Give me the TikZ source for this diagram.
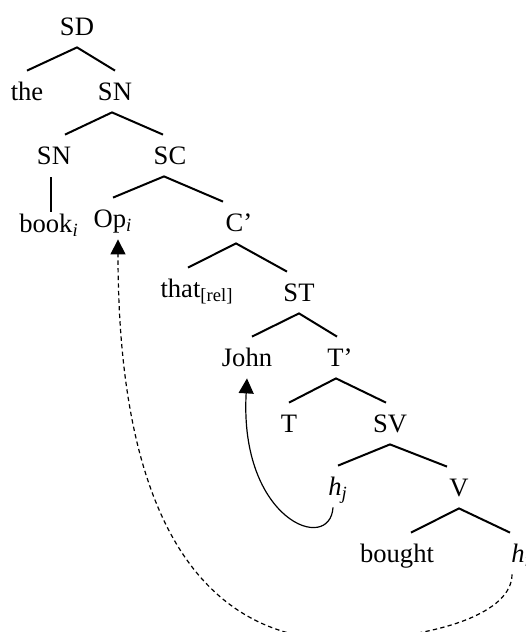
\documentclass[tikz,border=0pt]{standalone}
\usepackage{fontspec}
\setmainfont{Liberation Serif}
\usetikzlibrary{arrows.meta, calc}

\begin{document}
\begin{tikzpicture}[
  x=0.5pt, y=-0.5pt,
  font=\fontsize{13.3pt}{15pt}\selectfont,
  cat/.style={
    anchor=base, inner xsep=0pt, inner ysep=6pt,
    text height=8.5pt, text depth=0pt
  },
  branch/.style={line width=1pt},
  move/.style={-{Triangle[length=7.5pt, width=7.5pt]}, line width=0.6pt},
  trace/.style={move, dash pattern=on 2.2pt off 1.6pt},
]
\useasboundingbox (0,0) rectangle (525,632);

\node[cat] (sd) at (77,35) {SD};
\node[cat] (the) at (27,100) {the};
\node[cat] (sn) at (115,100) {SN};
\node[cat] (snl) at (54,164) {SN};
\node[cat] (sc) at (170,164) {SC};
\node[cat] (book) at (49,232) {book\textsubscript{\textit{i}}};
\node[cat] (op) at (113,227) {Op\textsubscript{\textit{i}}};
\node[cat] (cbar) at (239,231) {C'};
\node[cat] (that) at (197,297) {that\textsubscript{[rel]}};
\node[cat] (st) at (299,301) {ST};
\node[cat] (john) at (247,366) {John};
\node[cat] (tbar) at (340,366) {T'};
\node[cat] (t) at (289,432) {T};
\node[cat] (sv) at (390,432) {SV};
\node[cat] (hj) at (338,495) {\textit{h}\textsubscript{\textit{j}}};
\node[cat] (v) at (459,496) {V};
\node[cat] (bought) at (397,562) {bought};
\node[cat] (hi) at (521,562) {\textit{h}\textsubscript{\textit{i}}};

% branches
\draw[branch] (the.north) -- (sd.south) -- (sn.north);
\draw[branch] ($(snl.north)+(11,0)$) -- ($(sn.south)+(-3,0)$) -- ($(sc.north)+(-7,0)$);
\draw[branch] ($(snl.south)+(-3,1)$) -- ($(snl.south |- book.north)+(-3,9)$);
\draw[branch] (op.north) -- ($(sc.south)+(-6,0)$) -- ($(cbar.north)+(-16,0)$);
\draw[branch] ($(that.north)+(-9,0)$) -- ($(cbar.south)+(-3,0)$) -- ($(st.north)+(-12,0)$);
\draw[branch] ($(john.north)+(5,0)$) -- (st.south) -- ($(tbar.north)+(-3,0)$);
\draw[branch] (t.north) -- ($(tbar.south)+(-4,0)$) -- ($(sv.north)+(-4,0)$);
\draw[branch] (hj.north) -- (sv.south) -- ($(v.north)+(-12,0)$);
\draw[branch] ($(bought.north)+(14,0)$) -- (v.south) -- ($(hi.north)+(-11,0)$);

% movement
\draw[move] ($(hj.south)+(-5,0)$) .. controls +(-3,47) and +(-8,142) .. (john.south);
\draw[trace] ($(hi.south)+(-9,0)$) .. controls +(0,38) and (440,637) .. (350,640)
  .. controls (230,643) and (118,560) .. ($(op.south)+(5,0)$);

\end{tikzpicture}
\end{document}
